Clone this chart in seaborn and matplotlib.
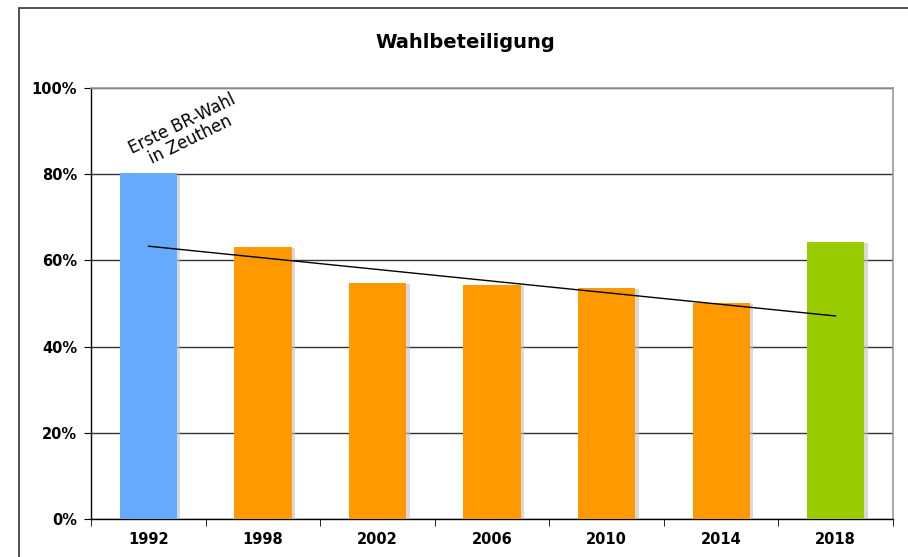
import matplotlib
matplotlib.use('Agg')
import matplotlib.pyplot as plt
import matplotlib.patheffects as pe
from matplotlib.patches import Rectangle
from matplotlib.ticker import FixedLocator, PercentFormatter
import seaborn as sns

# Data
years = ['1992', '1998', '2002', '2006', '2010', '2014', '2018']
turnout = [80.2, 63.1, 54.8, 54.3, 53.6, 50.1, 64.3]
bar_colors = ['#66aaff', '#ff9900', '#ff9900', '#ff9900', '#ff9900', '#ff9900', '#99cc00']
trend_years = ['1992', '2018']
trend_values = [63.3, 47.1]

sns.set_style('white')
plt.rcParams['font.family'] = ['DejaVu Sans']
plt.rcParams['text.color'] = 'black'
plt.rcParams['xtick.color'] = 'black'
plt.rcParams['ytick.color'] = 'black'

fig = plt.figure(figsize=(9.08, 5.57), dpi=100)
ax = fig.add_axes([91 / 908, 1 - 519 / 557, (893 - 91) / 908, (519 - 88) / 557])

# outer chart frame
fig.patches.append(Rectangle((19 / 908, -0.1), 1.1, 0.1 + 549 / 557, transform=fig.transFigure,
                             fill=False, edgecolor='#333333', linewidth=1.2))

sns.barplot(x=years, y=turnout, hue=years, palette=bar_colors, legend=False,
            width=0.5, saturation=1, linewidth=0, edgecolor='none', ax=ax, zorder=3)
for bar in ax.patches:
    bar.set_path_effects([pe.SimplePatchShadow(offset=(2.5, -1), shadow_rgbFace='#c0c0c0', alpha=0.6),
                          pe.Normal()])

idx = [years.index(y) for y in trend_years]
ax.plot(idx, trend_values, color='black', linewidth=1, zorder=4)

ax.annotate('Erste BR-Wahl\nin Zeuthen', xy=(0.33, 89.8), ha='center', va='center',
            rotation=26, fontsize=12, linespacing=1.0, zorder=5)

ax.set_xlim(-0.5, 6.5)
ax.set_ylim(0, 100)
ax.yaxis.set_major_locator(FixedLocator([0, 20, 40, 60, 80, 100]))
ax.yaxis.set_major_formatter(PercentFormatter(decimals=0))
ax.grid(axis='y', color='#333333', linewidth=1, zorder=0)
ax.set_axisbelow(True)

ax.xaxis.set_minor_locator(FixedLocator([i - 0.5 for i in range(len(years) + 1)]))
ax.tick_params(axis='x', which='major', length=0, pad=9)
ax.tick_params(axis='x', which='minor', length=5, direction='out', color='black', bottom=True)
ax.tick_params(axis='y', length=5, direction='out', color='black', left=True, pad=5)
for lab in ax.get_xticklabels() + ax.get_yticklabels():
    lab.set_fontweight('bold')
    lab.set_fontsize(10.5)

for side in ['left', 'bottom']:
    ax.spines[side].set_color('black')
    ax.spines[side].set_linewidth(1)
for side in ['top', 'right']:
    ax.spines[side].set_visible(True)
    ax.spines[side].set_color('#999999')
    ax.spines[side].set_linewidth(1.2)

ax.set_xlabel('')
ax.set_ylabel('')
fig.text(465 / 908, 1 - 42 / 557, 'Wahlbeteiligung', ha='center', va='center',
         fontsize=14, fontweight='bold')

fig.savefig('out.png', dpi=100)
